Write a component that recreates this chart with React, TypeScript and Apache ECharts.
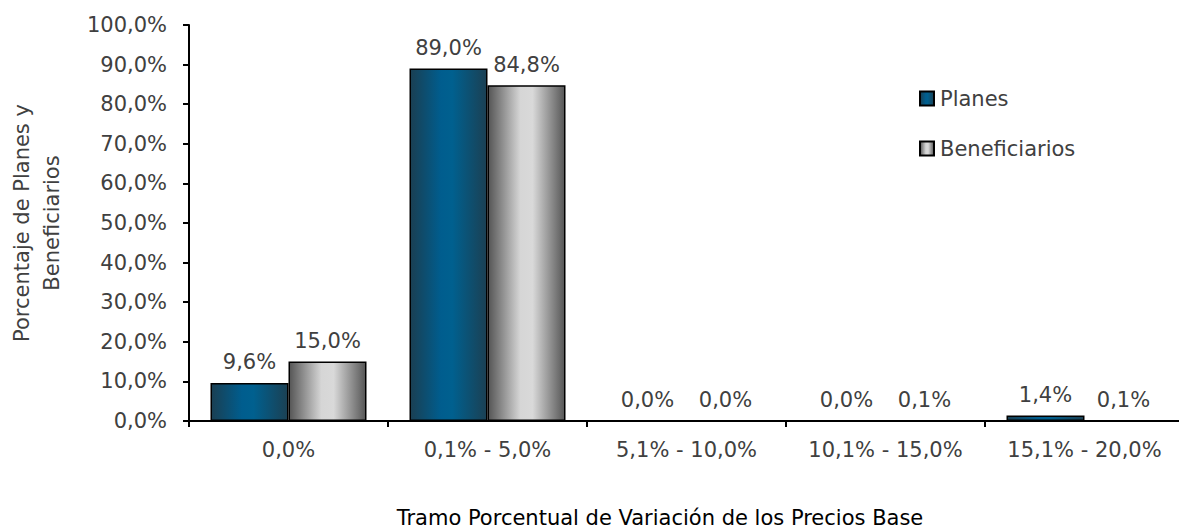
import React, { useEffect, useRef } from "react";
import * as echarts from "echarts";

const categories = ["0,0%", "0,1% - 5,0%", "5,1% - 10,0%", "10,1% - 15,0%", "15,1% - 20,0%"];
const planes = [9.6, 89.0, 0.0, 0.0, 1.4];
const beneficiarios = [15.0, 84.8, 0.0, 0.1, 0.1];
const yTickMax = 100;
const yTickStep = 10;
const yAxisName = "Porcentaje de Planes y\nBeneficiarios";
const xAxisTitle = "Tramo Porcentual de Variación de los Precios Base";

const FONT = "DejaVu Sans";
const TEXT = "#404040";
const FS = 21;

const fmt = (v: number) => v.toFixed(1).replace(".", ",") + "%";

export default function App() {
  const ref = useRef<HTMLDivElement>(null);
  useEffect(() => {
    document.body.style.margin = "0";
    if (!ref.current) return;
    const chart = echarts.init(ref.current, undefined, { renderer: "svg" });
    const blueGrad = new echarts.graphic.LinearGradient(0, 0, 1, 0, [
      { offset: 0, color: "#1a3f52" },
      { offset: 0.4, color: "#005d8e" },
      { offset: 0.55, color: "#00608f" },
      { offset: 1, color: "#1b4053" },
    ]);
    const greyGrad = new echarts.graphic.LinearGradient(0, 0, 1, 0, [
      { offset: 0, color: "#555555" },
      { offset: 0.42, color: "#d6d6d6" },
      { offset: 0.58, color: "#d9d9d9" },
      { offset: 1, color: "#565656" },
    ]);
    const labelCfg = {
      show: true,
      position: "top",
      distance: 10,
      color: TEXT,
      fontFamily: FONT,
      fontSize: FS,
      formatter: (p: any) => fmt(p.value),
    };
    chart.setOption({
      animation: false,
      backgroundColor: "#ffffff",
      grid: { left: 189, right: -5, top: 25, bottom: 109, containLabel: false, outerBoundsMode: "none" },
      legend: {
        orient: "vertical",
        left: 919,
        top: 88,
        padding: 0,
        icon: "rect",
        itemWidth: 14,
        itemHeight: 14,
        itemGap: 29,
        textStyle: { color: TEXT, fontFamily: FONT, fontSize: FS, padding: [0, 0, 0, 1] },
        data: ["Planes", "Beneficiarios"],
      },
      xAxis: {
        type: "category",
        data: categories,
        axisLine: { lineStyle: { color: "#000", width: 2 } },
        axisTick: { show: true, length: 6, lineStyle: { color: "#000", width: 2 } },
        axisLabel: { color: TEXT, fontFamily: FONT, fontSize: FS, margin: 18, interval: 0 },
        splitLine: { show: false },
      },
      yAxis: {
        type: "value",
        min: 0,
        max: yTickMax,
        interval: yTickStep,
        name: yAxisName,
        nameLocation: "middle",
        nameGap: 122,
        nameTextStyle: { color: TEXT, fontFamily: FONT, fontSize: FS, lineHeight: 30 },
        axisLine: { show: true, lineStyle: { color: "#000", width: 2 } },
        axisTick: { show: true, length: 6, lineStyle: { color: "#000", width: 2 } },
        axisLabel: { color: TEXT, fontFamily: FONT, fontSize: FS, margin: 22, formatter: fmt },
        splitLine: { show: false },
      },
      series: [
        {
          name: "Planes",
          type: "bar",
          data: planes,
          barWidth: 78,
          barGap: "0%",
          itemStyle: { color: blueGrad, borderColor: "#000", borderWidth: 1.5 },
          label: labelCfg,
        },
        {
          name: "Beneficiarios",
          type: "bar",
          data: beneficiarios,
          barWidth: 78,
          barGap: "0%",
          itemStyle: { color: greyGrad, borderColor: "#000", borderWidth: 1.5 },
          label: labelCfg,
        },
      ],
      graphic: [
        {
          type: "text",
          x: 660,
          y: 518,
          style: {
            text: xAxisTitle,
            fill: "#000",
            fontFamily: FONT,
            fontSize: FS,
            textAlign: "center",
            textVerticalAlign: "middle",
          },
        },
      ],
    });
    return () => chart.dispose();
  }, []);
  return <div ref={ref} style={{ width: 1179, height: 530 }} />;
}
